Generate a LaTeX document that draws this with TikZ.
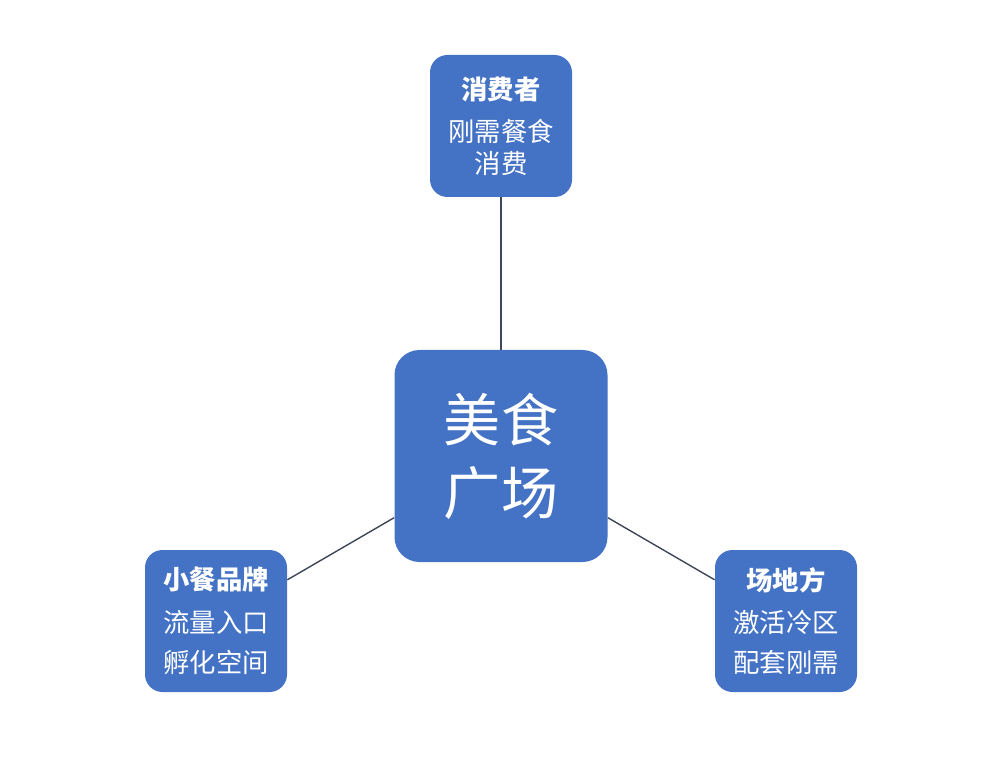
\documentclass[tikz,border=0pt]{standalone}
\usepackage{fontspec}
\newfontfamily\cjk{Noto Sans CJK SC}
\definecolor{boxblue}{RGB}{68,114,196}
\definecolor{linkgray}{RGB}{62,70,88}
\tikzset{
    bigbox/.style={
        fill=boxblue, text=white, rounded corners=0.5cm,
        minimum width=4.26cm, minimum height=4.24cm, inner sep=0pt,
        align=center, font=\cjk\fontsize{32.5}{41.5}\selectfont
    },
    smallbox/.style={
        fill=boxblue, text=white, rounded corners=0.35cm,
        minimum width=2.84cm, minimum height=2.84cm, inner sep=0pt,
        align=center, font=\cjk\fontsize{15}{18}\selectfont
    },
    link/.style={draw=linkgray, line width=0.8pt}
}

\begin{document}
\begin{tikzpicture}
    \useasboundingbox (0,0) rectangle (20,-15.42);

    \node[bigbox] (FOODCOURT) at (10.02, -9.12) {美食\\广场};
    \node[smallbox] (CONSUMER) at (10.02, -2.52) {\bfseries 消费者\\[6pt]刚需餐食\\消费};
    \node[smallbox] (BRAND) at (4.32, -12.42) {\bfseries 小餐品牌\\[6pt]流量入口\\[5pt]孵化空间};
    \node[smallbox] (VENUE) at (15.72, -12.42) {\bfseries 场地方\\[6pt]激活冷区\\[5pt]配套刚需};

    \draw[link] (CONSUMER.south) -- (FOODCOURT.north);
    \draw[link] (FOODCOURT.210) -- (BRAND.30);
    \draw[link] (FOODCOURT.330) -- (VENUE.150);
\end{tikzpicture}
\end{document}
